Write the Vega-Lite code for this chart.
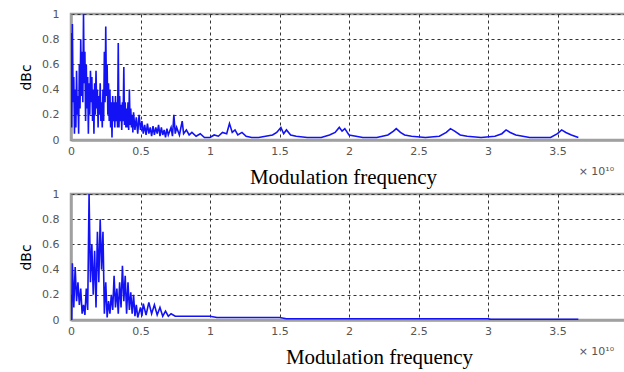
{
"$schema":"https://vega.github.io/schema/vega-lite/v6.json",
"background":"white",
"padding":{"left":18,"top":6,"right":0,"bottom":0},
"spacing":-3,
"config":{
 "view":{"stroke":"#a0a0a0","strokeWidth":2.5},
 "axis":{"grid":true,"gridColor":"#333","gridDash":[3,3],"gridWidth":1,"tickSize":0,"domainColor":"#a0a0a0","domainWidth":2.5,"labelColor":"#555","labelFont":"DejaVu Sans","labelFontSize":11,"labelOverlap":false,"labelFlush":false}
},
"datasets":{
"top":[{"f":0,"v":0.85},{"f":0.005,"v":0.1},{"f":0.01,"v":0.92},{"f":0.015,"v":0.3},{"f":0.02,"v":0.5},{"f":0.025,"v":0.05},{"f":0.03,"v":0.4},{"f":0.035,"v":0.1},{"f":0.04,"v":0.55},{"f":0.045,"v":0.2},{"f":0.05,"v":0.35},{"f":0.055,"v":0.05},{"f":0.06,"v":0.6},{"f":0.065,"v":0.25},{"f":0.07,"v":0.8},{"f":0.075,"v":0.35},{"f":0.08,"v":0.7},{"f":0.085,"v":0.3},{"f":0.09,"v":1.0},{"f":0.095,"v":0.45},{"f":0.1,"v":0.7},{"f":0.105,"v":0.15},{"f":0.11,"v":0.6},{"f":0.115,"v":0.25},{"f":0.12,"v":0.5},{"f":0.125,"v":0.05},{"f":0.13,"v":0.45},{"f":0.135,"v":0.2},{"f":0.14,"v":0.55},{"f":0.145,"v":0.3},{"f":0.15,"v":0.5},{"f":0.155,"v":0.15},{"f":0.16,"v":0.4},{"f":0.165,"v":0.05},{"f":0.17,"v":0.45},{"f":0.175,"v":0.2},{"f":0.18,"v":0.55},{"f":0.185,"v":0.25},{"f":0.19,"v":0.4},{"f":0.195,"v":0.1},{"f":0.2,"v":0.35},{"f":0.205,"v":0.2},{"f":0.21,"v":0.45},{"f":0.215,"v":0.15},{"f":0.22,"v":0.3},{"f":0.225,"v":0.1},{"f":0.23,"v":0.4},{"f":0.235,"v":0.15},{"f":0.24,"v":0.7},{"f":0.245,"v":0.3},{"f":0.25,"v":0.9},{"f":0.255,"v":0.35},{"f":0.26,"v":0.6},{"f":0.265,"v":0.2},{"f":0.27,"v":0.45},{"f":0.275,"v":0.15},{"f":0.28,"v":0.4},{"f":0.285,"v":0.1},{"f":0.29,"v":0.3},{"f":0.295,"v":0.02},{"f":0.3,"v":0.35},{"f":0.305,"v":0.15},{"f":0.31,"v":0.3},{"f":0.315,"v":0.1},{"f":0.32,"v":0.35},{"f":0.325,"v":0.15},{"f":0.33,"v":0.3},{"f":0.335,"v":0.1},{"f":0.34,"v":0.77},{"f":0.345,"v":0.1},{"f":0.35,"v":0.35},{"f":0.355,"v":0.15},{"f":0.36,"v":0.28},{"f":0.365,"v":0.08},{"f":0.37,"v":0.3},{"f":0.375,"v":0.15},{"f":0.38,"v":0.58},{"f":0.385,"v":0.12},{"f":0.39,"v":0.3},{"f":0.395,"v":0.1},{"f":0.4,"v":0.25},{"f":0.405,"v":0.1},{"f":0.41,"v":0.3},{"f":0.415,"v":0.08},{"f":0.42,"v":0.4},{"f":0.425,"v":0.12},{"f":0.43,"v":0.25},{"f":0.435,"v":0.1},{"f":0.44,"v":0.2},{"f":0.445,"v":0.06},{"f":0.45,"v":0.22},{"f":0.46,"v":0.08},{"f":0.47,"v":0.18},{"f":0.48,"v":0.05},{"f":0.49,"v":0.2},{"f":0.5,"v":0.08},{"f":0.51,"v":0.15},{"f":0.52,"v":0.05},{"f":0.53,"v":0.12},{"f":0.54,"v":0.04},{"f":0.55,"v":0.13},{"f":0.56,"v":0.05},{"f":0.57,"v":0.1},{"f":0.58,"v":0.03},{"f":0.59,"v":0.11},{"f":0.6,"v":0.04},{"f":0.61,"v":0.1},{"f":0.62,"v":0.05},{"f":0.63,"v":0.12},{"f":0.64,"v":0.03},{"f":0.65,"v":0.1},{"f":0.66,"v":0.04},{"f":0.67,"v":0.08},{"f":0.68,"v":0.02},{"f":0.69,"v":0.09},{"f":0.7,"v":0.04},{"f":0.72,"v":0.1},{"f":0.73,"v":0.03},{"f":0.74,"v":0.2},{"f":0.75,"v":0.05},{"f":0.76,"v":0.1},{"f":0.78,"v":0.04},{"f":0.8,"v":0.15},{"f":0.81,"v":0.05},{"f":0.83,"v":0.08},{"f":0.85,"v":0.04},{"f":0.87,"v":0.06},{"f":0.9,"v":0.03},{"f":0.93,"v":0.05},{"f":0.96,"v":0.02},{"f":1.0,"v":0.02},{"f":1.03,"v":0.04},{"f":1.06,"v":0.03},{"f":1.09,"v":0.06},{"f":1.12,"v":0.05},{"f":1.14,"v":0.13},{"f":1.16,"v":0.06},{"f":1.18,"v":0.08},{"f":1.2,"v":0.04},{"f":1.23,"v":0.06},{"f":1.26,"v":0.03},{"f":1.3,"v":0.02},{"f":1.35,"v":0.02},{"f":1.4,"v":0.03},{"f":1.45,"v":0.04},{"f":1.48,"v":0.06},{"f":1.51,"v":0.1},{"f":1.53,"v":0.05},{"f":1.55,"v":0.08},{"f":1.58,"v":0.04},{"f":1.62,"v":0.03},{"f":1.7,"v":0.02},{"f":1.8,"v":0.02},{"f":1.86,"v":0.04},{"f":1.9,"v":0.06},{"f":1.93,"v":0.1},{"f":1.95,"v":0.07},{"f":1.97,"v":0.09},{"f":2.0,"v":0.04},{"f":2.05,"v":0.03},{"f":2.1,"v":0.02},{"f":2.2,"v":0.02},{"f":2.28,"v":0.04},{"f":2.32,"v":0.07},{"f":2.34,"v":0.09},{"f":2.37,"v":0.06},{"f":2.4,"v":0.04},{"f":2.45,"v":0.03},{"f":2.55,"v":0.02},{"f":2.65,"v":0.03},{"f":2.7,"v":0.06},{"f":2.73,"v":0.09},{"f":2.76,"v":0.07},{"f":2.8,"v":0.04},{"f":2.85,"v":0.03},{"f":2.95,"v":0.02},{"f":3.05,"v":0.03},{"f":3.1,"v":0.05},{"f":3.13,"v":0.08},{"f":3.16,"v":0.06},{"f":3.2,"v":0.04},{"f":3.3,"v":0.02},{"f":3.45,"v":0.02},{"f":3.5,"v":0.05},{"f":3.53,"v":0.08},{"f":3.56,"v":0.06},{"f":3.6,"v":0.04},{"f":3.65,"v":0.02}],
"bot":[{"f":0,"v":0.2},{"f":0.005,"v":0.0},{"f":0.01,"v":0.45},{"f":0.02,"v":0.1},{"f":0.03,"v":0.42},{"f":0.04,"v":0.15},{"f":0.05,"v":0.3},{"f":0.06,"v":0.12},{"f":0.07,"v":0.25},{"f":0.08,"v":0.05},{"f":0.09,"v":0.12},{"f":0.1,"v":0.04},{"f":0.11,"v":0.25},{"f":0.12,"v":0.08},{"f":0.13,"v":1.0},{"f":0.14,"v":0.3},{"f":0.15,"v":0.6},{"f":0.16,"v":0.2},{"f":0.17,"v":0.55},{"f":0.18,"v":0.1},{"f":0.19,"v":0.7},{"f":0.2,"v":0.3},{"f":0.21,"v":0.8},{"f":0.22,"v":0.4},{"f":0.23,"v":0.7},{"f":0.24,"v":0.05},{"f":0.25,"v":0.3},{"f":0.26,"v":0.02},{"f":0.27,"v":0.15},{"f":0.28,"v":0.05},{"f":0.29,"v":0.2},{"f":0.3,"v":0.08},{"f":0.31,"v":0.35},{"f":0.32,"v":0.1},{"f":0.33,"v":0.25},{"f":0.34,"v":0.05},{"f":0.35,"v":0.3},{"f":0.36,"v":0.1},{"f":0.37,"v":0.43},{"f":0.38,"v":0.15},{"f":0.39,"v":0.35},{"f":0.4,"v":0.05},{"f":0.41,"v":0.3},{"f":0.42,"v":0.08},{"f":0.43,"v":0.22},{"f":0.44,"v":0.05},{"f":0.45,"v":0.2},{"f":0.46,"v":0.03},{"f":0.47,"v":0.12},{"f":0.48,"v":0.02},{"f":0.5,"v":0.1},{"f":0.51,"v":0.03},{"f":0.52,"v":0.13},{"f":0.54,"v":0.04},{"f":0.56,"v":0.14},{"f":0.58,"v":0.05},{"f":0.6,"v":0.12},{"f":0.62,"v":0.04},{"f":0.64,"v":0.1},{"f":0.66,"v":0.03},{"f":0.68,"v":0.07},{"f":0.7,"v":0.03},{"f":0.72,"v":0.05},{"f":0.75,"v":0.03},{"f":1.0,"v":0.03},{"f":1.05,"v":0.02},{"f":1.5,"v":0.02},{"f":1.55,"v":0.01},{"f":3.0,"v":0.01},{"f":3.02,"v":0.005},{"f":3.65,"v":0.005}],
"exp":[{"f":3.78,"v":-0.25,"t":"× 10¹⁰"}]
},
"vconcat":[
 {"width":556,"height":126,
  "resolve":{"scale":{"x":"independent","y":"independent"},"axis":{"x":"independent","y":"independent"}},
  "layer":[
   {"data":{"name":"top"},"mark":{"type":"line","color":"#1212f5","strokeWidth":1.6,"clip":true},
    "encoding":{"x":{"field":"f","type":"quantitative","scale":{"domain":[0,4],"nice":false},"axis":{"values":[0,0.5,1,1.5,2,2.5,3,3.5,4],"format":"~g","title":"Modulation frequency","titleFont":"Liberation Serif","titleFontSize":21,"titleFontWeight":"normal","titleColor":"#000","titlePadding":10,"titleX":272,"labelPadding":5,"labelOverlap":false}},
     "y":{"field":"v","type":"quantitative","scale":{"domain":[0,1],"nice":false},"axis":{"values":[0,0.2,0.4,0.6,0.8,1],"format":"~g","title":"dBc","titleFont":"DejaVu Sans","titleFontSize":14,"titleFontWeight":"normal","titleColor":"#000","titlePadding":8,"labelPadding":12,"labelOverlap":false}}}},
   {"data":{"name":"exp"},"mark":{"type":"text","clip":false,"fontSize":11,"color":"#555","font":"DejaVu Sans"},
    "encoding":{"x":{"field":"f","type":"quantitative","scale":{"domain":[0,4],"nice":false},"axis":null},"y":{"field":"v","type":"quantitative","scale":{"domain":[0,1],"nice":false},"axis":null},"text":{"field":"t"}}}
  ]},
 {"width":556,"height":126,
  "resolve":{"scale":{"x":"independent","y":"independent"},"axis":{"x":"independent","y":"independent"}},
  "layer":[
   {"data":{"name":"bot"},"mark":{"type":"line","color":"#1212f5","strokeWidth":1.6,"clip":true},
    "encoding":{"x":{"field":"f","type":"quantitative","scale":{"domain":[0,4],"nice":false},"axis":{"values":[0,0.5,1,1.5,2,2.5,3,3.5,4],"format":"~g","title":"Modulation frequency","titleFont":"Liberation Serif","titleFontSize":21,"titleFontWeight":"normal","titleColor":"#000","titlePadding":10,"titleX":308,"labelPadding":5,"labelOverlap":false}},
     "y":{"field":"v","type":"quantitative","scale":{"domain":[0,1],"nice":false},"axis":{"values":[0,0.2,0.4,0.6,0.8,1],"format":"~g","title":"dBc","titleFont":"DejaVu Sans","titleFontSize":14,"titleFontWeight":"normal","titleColor":"#000","titlePadding":8,"labelPadding":12,"labelOverlap":false}}}},
   {"data":{"name":"exp"},"mark":{"type":"text","clip":false,"fontSize":11,"color":"#555","font":"DejaVu Sans"},
    "encoding":{"x":{"field":"f","type":"quantitative","scale":{"domain":[0,4],"nice":false},"axis":null},"y":{"field":"v","type":"quantitative","scale":{"domain":[0,1],"nice":false},"axis":null},"text":{"field":"t"}}}
  ]}
]
}
